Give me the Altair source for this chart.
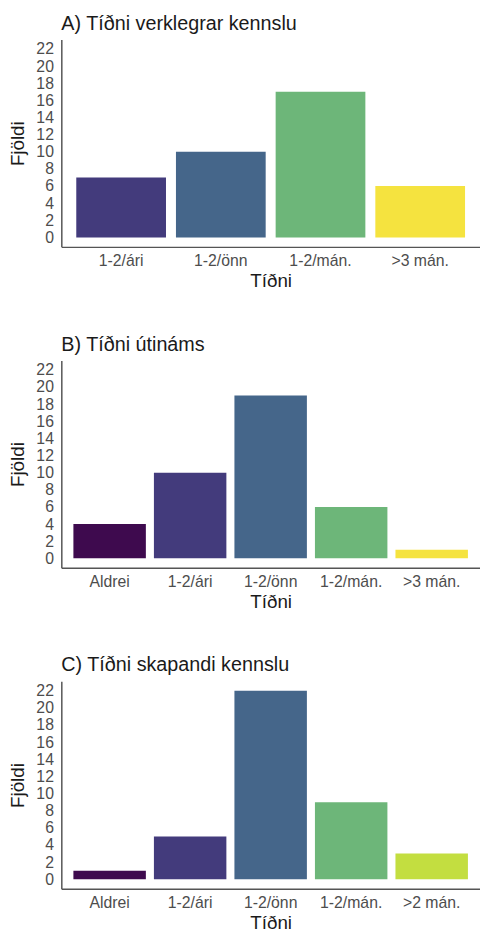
import altair as alt
import pandas as pd

# Panel A
cats_a = ["1-2/ári", "1-2/önn", "1-2/mán.", ">3 mán."]
vals_a = [7, 10, 17, 6]
cols_a = ["#433B7C", "#45668A", "#6DB679", "#F5E33F"]

# Panel B
cats_b = ["Aldrei", "1-2/ári", "1-2/önn", "1-2/mán.", ">3 mán."]
vals_b = [4, 10, 19, 6, 1]
cols_b = ["#3E0A4E", "#433B7C", "#45668A", "#6DB679", "#F5E33F"]

# Panel C
cats_c = ["Aldrei", "1-2/ári", "1-2/önn", "1-2/mán.", ">2 mán."]
vals_c = [1, 5, 22, 9, 3]
cols_c = ["#3E0A4E", "#433B7C", "#45668A", "#6DB679", "#C3DE40"]

titles = ["A) Tíðni verklegrar kennslu", "B) Tíðni útináms", "C) Tíðni skapandi kennslu"]
y_ticks = list(range(0, 23, 2))

FONT = "Liberation Sans"


def panel(cats, vals, cols, title):
    df = pd.DataFrame({"cat": cats, "n": vals})
    return alt.Chart(df, title=alt.TitleParams(
        text=title, anchor="start", fontSize=20, fontWeight="normal",
        font=FONT, color="#1a1a1a", offset=6, frame="group")).mark_bar().encode(
        x=alt.X("cat:N", sort=cats, title="Tíðni",
                scale=alt.Scale(paddingInner=0.1, paddingOuter=0.15),
                axis=alt.Axis(labelAngle=0, tickSize=0, labelPadding=6,
                              labelFontSize=16, labelColor="#4d4d4d", labelFont=FONT,
                              titleFontSize=19, titleFont=FONT, titleFontWeight="normal",
                              titleColor="#1a1a1a", titlePadding=3,
                              domainColor="#555555", domainWidth=1.5, grid=False)),
        y=alt.Y("n:Q", title="Fjöldi", stack=None,
                scale=alt.Scale(domain=[-1.1, 23.1], nice=False, zero=False),
                axis=alt.Axis(values=y_ticks, tickSize=0, labelPadding=8,
                              labelFontSize=16, labelColor="#4d4d4d", labelFont=FONT,
                              labelOverlap=False, labelFlush=False,
                              titleFontSize=19, titleFont=FONT, titleFontWeight="normal",
                              titleColor="#1a1a1a", titlePadding=9,
                              domainColor="#555555", domainWidth=1.5, grid=False)),
        y2=alt.datum(0),
        color=alt.Color("cat:N", sort=cats, legend=None,
                        scale=alt.Scale(domain=cats, range=cols)),
    ).properties(width=424, height=210)


chart = alt.vconcat(
    panel(cats_a, vals_a, cols_a, titles[0]),
    panel(cats_b, vals_b, cols_b, titles[1]),
    panel(cats_c, vals_c, cols_c, titles[2]),
    spacing=45,
).resolve_scale(color="independent").properties(
    padding={"left": 0, "top": 0, "right": 0, "bottom": 0}
).configure(background="white").configure_view(strokeWidth=0, stroke=None)

chart.save("out.html", embed_options={"renderer": "svg", "actions": False})
